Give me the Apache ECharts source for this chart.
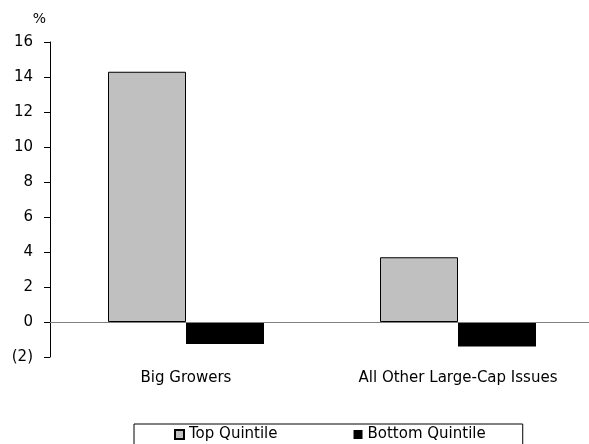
<!DOCTYPE html>
<html>
<head>
<meta charset="utf-8">
<script src="https://cdn.jsdelivr.net/npm/echarts@6/dist/echarts.min.js"></script>
<style>
  html, body { margin: 0; padding: 0; background: #fff; overflow: hidden; }
  /* canvas is a few pixels wider than the window so the plot area runs past the right edge */
  #chart { width: 594px; height: 444px; }
</style>
</head>
<body>
<div id="chart"></div>
<script>
// Average returns by quintile, percent
const categories = ['Big Growers', 'All Other Large-Cap Issues'];
const topQuintile = [14.3, 3.7];
const bottomQuintile = [-1.25, -1.4];
const seriesNames = ['Top Quintile', 'Bottom Quintile'];

const FONT = 'DejaVu Sans';

const chart = echarts.init(document.getElementById('chart'), null, { renderer: 'canvas' });

chart.setOption({
  animation: false,
  backgroundColor: '#ffffff',
  textStyle: { fontFamily: FONT, color: '#000' },
  grid: { left: 50, right: 0, top: 42, bottom: 87, containLabel: false },
  legend: {
    left: 134,
    top: 424,
    data: seriesNames,
    icon: 'rect',
    itemWidth: 9,
    itemHeight: 9,
    itemGap: 76,
    padding: [3, 37, 8, 40],
    borderColor: '#000',
    borderWidth: 1,
    textStyle: { fontFamily: FONT, fontSize: 15, color: '#000' }
  },
  xAxis: {
    type: 'category',
    data: categories,
    axisLine: { show: false, onZero: false },
    axisTick: { show: false },
    axisLabel: { margin: 14, fontFamily: FONT, fontSize: 15, color: '#000' },
    splitLine: { show: false }
  },
  yAxis: {
    type: 'value',
    min: -2,
    max: 16,
    interval: 2,
    name: '%',
    nameLocation: 'end',
    nameGap: 16,
    nameTextStyle: { fontFamily: FONT, fontSize: 14, color: '#000', align: 'right', padding: [0, 4, 0, 0] },
    axisLine: { show: true, lineStyle: { color: '#000', width: 1 } },
    axisTick: { show: true, inside: false, length: 6, lineStyle: { color: '#000' } },
    axisLabel: {
      margin: 17,
      fontFamily: FONT,
      fontSize: 15,
      color: '#000',
      formatter: v => (v < 0 ? '(' + Math.abs(v) + ')' : String(v))
    },
    splitLine: { show: false }
  },
  series: [
    {
      name: seriesNames[0],
      type: 'bar',
      data: topQuintile,
      barWidth: 78,
      barGap: '0%',
      itemStyle: { color: '#c0c0c0', borderColor: '#000', borderWidth: 1 },
      markLine: {
        silent: true,
        symbol: ['none', 'none'],
        label: { show: false },
        lineStyle: { color: '#808080', width: 1, type: 'solid' },
        data: [{ yAxis: 0 }]
      },
      z: 2
    },
    {
      name: seriesNames[1],
      type: 'bar',
      data: bottomQuintile,
      barWidth: 78,
      itemStyle: { color: '#000000', borderColor: '#000', borderWidth: 0 },
      z: 2
    }
  ]
});
</script>
</body>
</html>
